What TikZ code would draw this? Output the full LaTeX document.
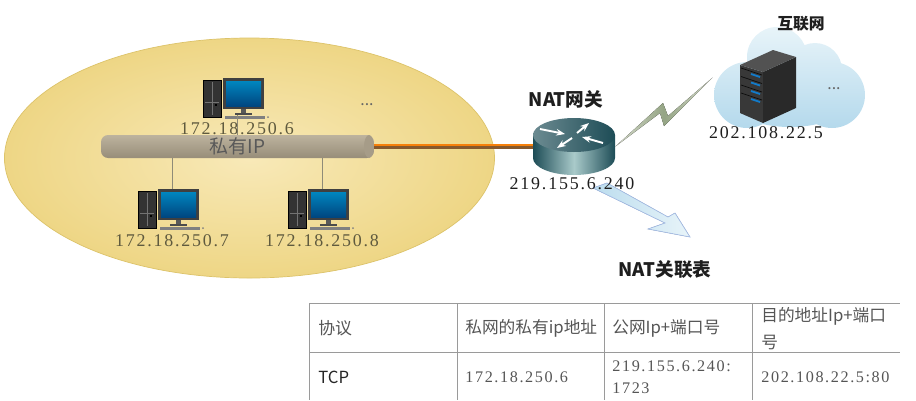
\documentclass[tikz,border=0pt]{standalone}
\usepackage{fontspec}
\setmainfont{Noto Sans CJK SC}
\newfontfamily\ipfont[LetterSpace=10]{Liberation Serif}
\usetikzlibrary{arrows.meta}
\definecolor{lanrim}{HTML}{DCC36A}
\definecolor{lanin}{HTML}{F8E9B8}
\definecolor{lanout}{HTML}{EED685}
\definecolor{iplan}{HTML}{5F5A3E}
\definecolor{ipdark}{HTML}{1E1E1E}
\definecolor{tabline}{HTML}{9A9A9A}
\definecolor{tabtext}{HTML}{555555}
\definecolor{routerdark}{HTML}{1D4C56}
\definecolor{routerlite}{HTML}{A9CACA}
\definecolor{skyblue}{HTML}{B4D9EC}
\definecolor{skylite}{HTML}{E8F4F9}
\definecolor{bustop}{HTML}{BDB39E}
\definecolor{busbot}{HTML}{978D79}
\definecolor{boltmid}{HTML}{95A585}
\definecolor{boltend}{HTML}{D5DACB}

\begin{document}
\begin{tikzpicture}[
    x=0.02cm, y=-0.02cm, % 1 单位 = 1 像素,y 向下
    font=\small,
    hostbox/.style={minimum width=1.38cm, minimum height=0.8cm, inner sep=0},
    iplabel/.style={font=\fontsize{10.2}{12}\ipfont, inner sep=0, text=iplan},
    iplabeldark/.style={iplabel, text=ipdark},
    title/.style={font=\fontsize{10.6}{12}\selectfont\bfseries, inner sep=0, text=ipdark},
    busbar/.style={minimum width=5.46cm, minimum height=0.46cm, inner sep=0, rounded corners=4pt,
        top color=bustop, bottom color=busbot, font=\fontsize{10.8}{12}\selectfont, text=black!65},
    cell/.style={anchor=west, inner sep=0, text=tabtext, font=\fontsize{9.5}{11}\selectfont},
    cellip/.style={anchor=west, inner sep=0, text=tabtext, font=\fontsize{9.2}{11}\ipfont},
    ]
    \useasboundingbox (0,0) rectangle (916,400);

    % 1. 绘制私网椭圆
    \path[draw=lanrim, inner color=lanin, outer color=lanout] (249.5,158) ellipse (245 and 120);

    % 2. 绘制总线和节点框
    \node[busbar] (bus) at (237.5,146.5) {私有IP};
    \fill[busbot!60!bustop] (369,146.5) ellipse (5 and 11.5);
    \node[hostbox, minimum width=1.64cm] (gateway) at (574,146.5) {};
    \node[minimum width=3.04cm, minimum height=2cm, inner sep=0] (cloud) at (789,77.5) {};

    % 3. 绘制主机
    \foreach \x/\y/\hostname in {203/80/hostA, 138/191/hostB, 288/191/hostC} {
        \begin{scope}[shift={(\x,\y)}]
            % 机箱
            \fill[black!80, draw=black] (0,0) rectangle (18,37);
            \draw[black!55] (9,2) -- (9,35) (2,22) -- (16,22);
            \fill[black] (12,24) rectangle (14,26);
            % 显示器
            \fill[black!75] (20,-2) rectangle (61,29);
            \shade[top color=blue!30!cyan!75!black, bottom color=blue!45!cyan!50!black] (23,1) rectangle (58,26);
            \fill[black!65] (38,29) rectangle (43,33);
            \fill[black!70] (32,33) rectangle (49,35);
            % 键盘
            \fill[black!50] (22,36) rectangle (62,39);
            \fill[black!50] (65,37) circle (1);
            \node[hostbox] (\hostname) at (34,18) {};
        \end{scope}
    }
    \draw[iplan!70] (hostA.south) ++(0,-3) -- (bus.north -| hostA.south);
    \draw[iplan!70] (hostB.north) -- (bus.south -| hostB.north);
    \draw[iplan!70] (hostC.north) -- (bus.south -| hostC.north);

    % 4. 绘制线路
    \draw[line width=2.3pt, brown!70!black] (bus.east) -- (gateway.west);
    \draw[line width=1.1pt, orange!85!brown] ([yshift=0.6pt]bus.east) -- ([yshift=0.6pt]gateway.west);
    \fill[left color=boltend, right color=boltend, middle color=boltmid]
        (gateway.east) -- (663,103) -- (668,116) -- (cloud.west) -- (664,126) -- (660,113) -- cycle;

    % 5. 绘制路由器
    \shade[left color=routerdark, right color=routerdark, middle color=routerlite]
        (533,135) -- (533,158) arc[start angle=180, end angle=0, x radius=41, y radius=17] -- (615,135) -- cycle;
    \shade[left color=routerdark!65!white, right color=routerdark] (574,135) ellipse (41 and 17);
    \draw[-{Stealth[length=5pt]}, white, line width=1.1pt] (540,129) -- (565,134);
    \draw[-{Stealth[length=5pt]}, white, line width=1.1pt] (577,133) -- (589,123);
    \draw[-{Stealth[length=5pt]}, white, line width=1.1pt] (603,143) -- (582,137);
    \draw[-{Stealth[length=5pt]}, white, line width=1.1pt] (572,138) -- (557,148);

    % 6. 绘制云和服务器
    \shade[top color=skylite, bottom color=skyblue]
        (747,95) circle (33) (777,57) circle (30) (815,70) circle (27) (832,95) circle (33)
        (790,100) ellipse (60 and 27);
    \fill[black!78] (740,65) -- (763,72) -- (763,123) -- (740,113) -- cycle;
    \fill[black!84] (763,72) -- (796,57) -- (796,108) -- (763,123) -- cycle;
    \fill[black!68] (740,65) -- (773,50) -- (796,57) -- (763,72) -- cycle;
    \foreach \y in {0, 8.5, 17, 25} {
        \draw[black!95] (741,68+\y) -- (762,75+\y);
        \draw[cyan!60!blue, line width=1pt] (751,74+\y) -- (760,77+\y);
    }

    % 7. 绘制指向关联表的箭头
    \filldraw[draw=cyan!50!blue!35!white, left color=skyblue!90!white, right color=skylite]
        (593,188) -- (607,183) -- (668,217) -- (675,213) -- (690,237) -- (648,229) -- (665,223) -- cycle;

    % 8. 添加标签
    \node[iplabel] (ipA) at (237,129) {172.18.250.6};
    \node[iplabel] (ipB) at (172,241) {172.18.250.7};
    \node[iplabel] (ipC) at (322,241) {172.18.250.8};
    \node[iplabeldark] (ipgateway) at (572,184) {219.155.6.240};
    \node[iplabeldark] (ipserver) at (766,133) {202.108.22.5};
    \node[title] (gatewayname) at (566,99) {NAT网关};
    \node[title, font=\fontsize{9}{11}\selectfont\bfseries] (cloudname) at (801,24) {互联网};
    \node[title] (tablename) at (665,270) {NAT关联表};
    \node[inner sep=0, text=black!60] (moreA) at (367,105) {...};
    \node[inner sep=0, text=black!60] (moreB) at (834,89) {...};

    % 9. 绘制关联表
    \draw[tabline] (309,303) -- (900,303) (309,352) -- (900,352);
    \foreach \x in {309, 457, 604, 752} {
        \draw[tabline] (\x,303) -- (\x,400);
    }
    \node[cell, font=\fontsize{9.6}{11}\selectfont] (headproto) at (318,328) {协议};
    \node[cell] (headlan) at (465,328) {私网的私有ip地址};
    \node[cell] (headwan) at (612,328) {公网Ip+端口号};
    \node[cell] (headdest) at (761,316) {目的地址Ip+端口};
    \node[cell] (headdestb) at (761,342) {号};
    \node[cell, text=black!85] (cellproto) at (318,377) {TCP};
    \node[cellip] (celllan) at (465,377) {172.18.250.6};
    \node[cellip] (cellwan) at (612,366) {219.155.6.240:};
    \node[cellip] (cellwanb) at (612,388) {1723};
    \node[cellip] (celldest) at (761,377) {202.108.22.5:80};
\end{tikzpicture}
\end{document}
